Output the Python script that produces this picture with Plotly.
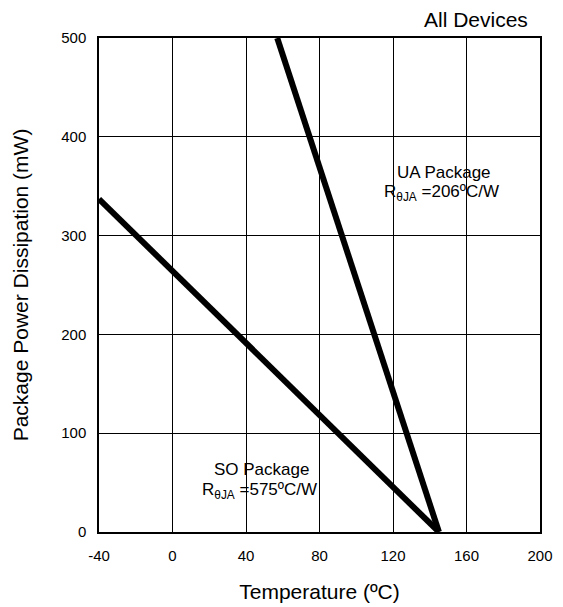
import plotly.graph_objects as go

# Data
ua_temp = [57, 145]
ua_power = [500, 0]
so_temp = [-40, 145]
so_power = [337, 0]

x_ticks = [-40, 0, 40, 80, 120, 160, 200]
y_ticks = [0, 100, 200, 300, 400, 500]

font_family = "Liberation Sans, Arial, sans-serif"

fig = go.Figure()
fig.add_trace(go.Scatter(x=ua_temp, y=ua_power, mode="lines",
                         line=dict(color="black", width=6), showlegend=False))
fig.add_trace(go.Scatter(x=so_temp, y=so_power, mode="lines",
                         line=dict(color="black", width=6), showlegend=False))

fig.update_layout(
    width=563, height=607,
    margin=dict(l=89, r=31, t=30, b=83),
    paper_bgcolor="white", plot_bgcolor="white",
    font=dict(family=font_family, color="black", size=15),
    xaxis=dict(range=[-40, 200], tickvals=x_ticks, ticktext=[str(v) for v in x_ticks],
               showgrid=True, gridcolor="black", gridwidth=1.3,
               showline=True, linecolor="black", linewidth=1.5, mirror=True,
               zeroline=False, ticks="", tickfont=dict(size=15), ticklabelstandoff=9,
               title=dict(text="Temperature (ºC)", font=dict(size=21), standoff=22)),
    yaxis=dict(range=[0, 500], tickvals=y_ticks, ticktext=[str(v) for v in y_ticks],
               showgrid=True, gridcolor="black", gridwidth=1.3,
               showline=True, linecolor="black", linewidth=1.5, mirror=True,
               zeroline=False, ticks="", tickfont=dict(size=15), ticklabelstandoff=8,
               title=dict(text="Package Power Dissipation (mW)", font=dict(size=21), standoff=27)),
    annotations=[
        dict(text="All Devices", xref="paper", yref="paper", x=1.0, y=1.0,
             xanchor="right", yanchor="bottom", yshift=5, xshift=-10,
             showarrow=False, font=dict(size=21)),
        dict(text="UA Package", x=147.5, y=364, xref="x", yref="y",
             xanchor="center", yanchor="middle", showarrow=False, font=dict(size=17)),
        dict(text="R<sub>θJA</sub> =206ºC/W", x=146.4, y=343, xref="x", yref="y",
             xanchor="center", yanchor="middle", showarrow=False, font=dict(size=17)),
        dict(text="SO Package", x=48.3, y=62.8, xref="x", yref="y",
             xanchor="center", yanchor="middle", showarrow=False, font=dict(size=17)),
        dict(text="R<sub>θJA</sub> =575ºC/W", x=47.2, y=41.5, xref="x", yref="y",
             xanchor="center", yanchor="middle", showarrow=False, font=dict(size=17)),
    ],
)

fig.write_html("out.html")
